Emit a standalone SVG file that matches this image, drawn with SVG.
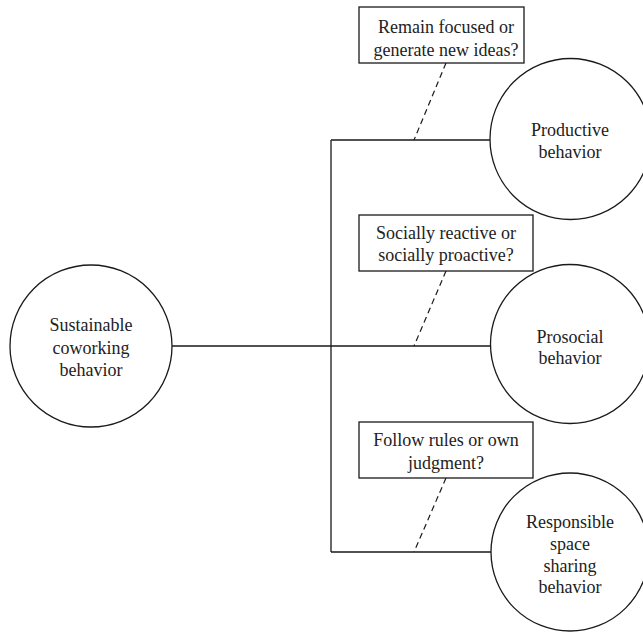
<svg xmlns="http://www.w3.org/2000/svg" width="643" height="632" viewBox="0 0 643 632">
<style>
.n{fill:#fff;stroke:#1a1a1a;stroke-width:1.3}
.c{fill:none;stroke:#1a1a1a;stroke-width:1.3}
.d{fill:none;stroke:#1a1a1a;stroke-width:1.2;stroke-dasharray:6 4}
text{font-family:"Liberation Serif","Times New Roman",serif;font-size:18px;fill:#222;text-anchor:middle}
</style>
<rect width="643" height="632" fill="#fff"/>
<g id="connectors">
<path class="c" d="M172 346H491M331 140V552M331 140H490M331 552H491"/>
<path class="d" d="M446 63L414 140M446 271L414 346M446 478L414 552"/>
</g>
<g id="sustainable"><circle class="n" cx="91" cy="346" r="81"/>
<text x="91" y="331">Sustainable</text><text x="91" y="354">coworking</text><text x="91" y="376">behavior</text></g>
<g id="productive"><circle class="n" cx="570.5" cy="139" r="80.5"/>
<text x="570" y="136">Productive</text><text x="570" y="158">behavior</text></g>
<g id="prosocial"><circle class="n" cx="570" cy="344" r="79.5"/>
<text x="570" y="343">Prosocial</text><text x="570" y="364">behavior</text></g>
<g id="responsible"><circle class="n" cx="570" cy="552" r="79"/>
<text x="570" y="528">Responsible</text><text x="570" y="550">space</text><text x="570" y="572">sharing</text><text x="570" y="593">behavior</text></g>
<g id="q1"><rect class="n" x="359" y="7" width="165" height="56"/>
<text x="446" y="33">Remain focused or</text><text x="446" y="56">generate new ideas?</text></g>
<g id="q2"><rect class="n" x="359" y="215" width="174" height="56"/>
<text x="446" y="239">Socially reactive or</text><text x="446" y="261">socially proactive?</text></g>
<g id="q3"><rect class="n" x="359" y="422" width="174" height="56"/>
<text x="446" y="446">Follow rules or own</text><text x="446" y="469">judgment?</text></g>
</svg>
